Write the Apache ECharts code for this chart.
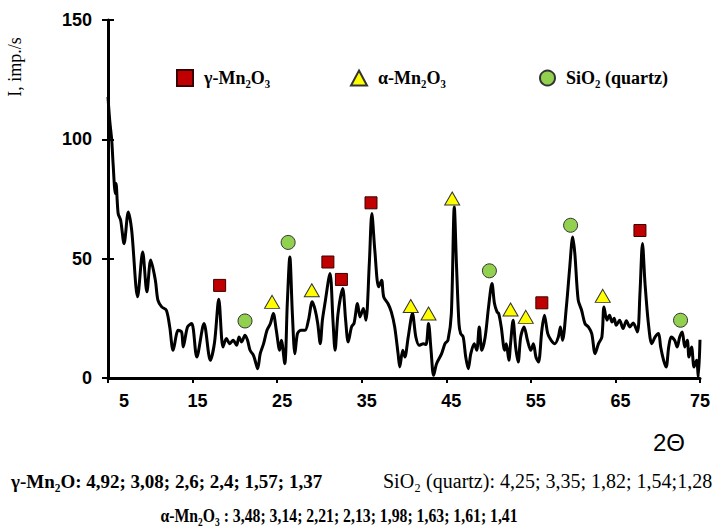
<!DOCTYPE html>
<html>
<head>
<meta charset="utf-8">
<title>XRD pattern</title>
<script src="https://cdn.jsdelivr.net/npm/echarts@6/dist/echarts.min.js"></script>
<style>
  html, body { margin: 0; padding: 0; background: #fff; }
  #chart { width: 713px; height: 526px; }
</style>
</head>
<body>
<div id="chart"></div>
<script>
// Diffraction scan: 2θ (degrees) and intensity (imp./s)
const twoTheta = [
  5.0, 5.2, 5.44, 5.6, 5.86, 5.95, 6.2, 6.5, 6.9, 7.4, 7.8, 8.5, 9.1, 9.6, 10.05, 10.6, 10.9, 11.35, 11.9,
  12.3, 12.7, 13.3, 13.7, 13.9, 14.4, 14.9, 15.5, 16.35, 17.1, 17.6, 18.1, 18.6, 19.0, 19.4, 19.8, 20.2,
  20.5, 20.8, 21.2, 21.5, 21.8, 22.2, 22.5, 22.7, 23.0, 23.4, 23.8, 24.2, 24.55, 24.9, 25.3, 25.5, 25.9,
  26.2, 26.5, 26.8, 27.1, 27.4, 27.8, 28.3, 28.7, 29.15, 29.5, 29.8, 30.1, 30.35, 30.65, 31.25, 31.6,
  31.85, 32.2, 32.75, 33.1, 33.4, 33.8, 34.1, 34.5, 34.8, 35.2, 35.5, 35.9, 36.2, 36.55, 37.0, 37.35,
  37.6, 38.1, 38.5, 38.9, 39.3, 39.5, 39.85, 40.1, 40.5, 41.0, 41.4, 41.8, 42.3, 42.6, 42.9, 43.2, 43.5,
  43.85, 44.45, 44.85, 45.2, 45.6, 45.95, 46.2, 46.5, 46.7, 47.0, 47.3, 47.6, 47.9, 48.3, 48.6, 48.9,
  49.2, 49.6, 50.0, 50.4, 50.7, 51.0, 51.2, 51.5, 51.9, 52.1, 52.4, 52.6, 52.9, 53.2, 53.5, 53.8, 54.2,
  54.6, 55.0, 55.3, 55.6, 55.9, 56.3, 56.6, 57.0, 57.4, 57.85, 58.25, 58.5, 58.75, 59.2, 59.6, 59.95,
  60.2, 60.6, 61.0, 61.4, 61.8, 62.2, 62.6, 63.0, 63.4, 63.65, 64.0, 64.3, 64.6, 64.85, 65.1, 65.5,
  65.9, 66.3, 66.7, 67.1, 67.6, 67.9, 68.2, 68.5, 68.9, 69.3, 69.7, 70.1, 70.35, 70.7, 71.0, 71.3, 71.6,
  72.0, 72.3, 72.6, 72.9, 73.2, 73.5, 73.7, 74.0, 74.3, 74.6, 74.8, 75.0
];
const intensity = [
  117.8, 108, 99.7, 89.9, 77.3, 81.5, 68.9, 66, 56.3, 69.6, 61.9, 34, 52.8, 36.1, 49.4, 41, 32.6, 29.8, 28.4,
  21.4, 11.6, 20, 19.3, 13, 21.4, 22.8, 8.8, 22.8, 7.4, 15, 33, 13, 16.5, 14.4, 15.8, 13.7,
  17.2, 15.1, 17.9, 15.8, 11.6, 9.5, 6, 3.9, 10.2, 14.4, 20, 22.8, 27, 20, 11.6, 15.8, 6,
  31.2, 50.7, 27, 10.2, 18.6, 20, 20, 24.2, 31.9, 28.4, 22.8, 14.4, 24.2, 31.2, 43.8, 24.2,
  11.6, 27, 37.5, 24.2, 15.1, 21.4, 23, 31.2, 25.6, 29.1, 24.2, 48, 68.9, 53.5, 38.2, 41,
  34, 31.2, 27.7, 21.4, 10.2, 4.6, 11.6, 8.8, 17.2, 27, 17.2, 13.7, 14.4, 14, 22.8, 11.6, 1.1,
  6, 10.2, 14.4, 15.8, 27, 71.7, 48, 22.8, 18.6, 17.2, 8.8, 3.9, 10.2, 14.4, 11.6, 21.4,
  11.6, 17.2, 29.8, 39.6, 31.2, 27.7, 27, 21.4, 11.6, 14.4, 7.4, 14.4, 24.2, 13, 6.7, 17.2, 21.4,
  15.8, 11.6, 14.4, 8.8, 6.7, 20, 26.3, 18.6, 15.8, 14.4, 17.2, 21.4, 15.8, 29.8, 46.5, 59.1,
  52.2, 32.6, 28.4, 22.8, 21.4, 18.6, 10.2, 14.4, 17.2, 29.8, 24.2, 26.3, 23.5, 25, 22.1, 24.2,
  20.7, 24, 21.4, 23, 19.3, 35.4, 56.4, 39.6, 22.8, 14.4, 17.2, 18.6, 13, 7.4, 4.6, 13, 17.2,
  15.8, 13, 17.2, 19.3, 13, 15.8, 8.8, 13, 4.6, 7.4, 0.3, 16
];

// Phase markers placed above the identified reflections: [2θ, intensity]
const gammaMarks = [[18.2, 38.8], [31.0, 48.6], [32.6, 41.3], [36.1, 73.4], [56.3, 31.5], [67.9, 61.8]];
const alphaMarks = [[24.4, 31.9], [29.1, 36.8], [40.8, 30.2], [42.9, 27.0], [45.7, 75.2], [52.6, 28.7], [54.4, 25.6], [63.5, 34.4]];
const quartzMarks = [[21.2, 23.9], [26.3, 56.8], [50.1, 44.9], [59.7, 64.0], [72.7, 24.2]];

const phaseNames = ['γ-Mn₂O₃', 'α-Mn₂O₃', 'SiO₂ (quartz)'];
const xTicks = [5, 15, 25, 35, 45, 55, 65, 75];
const yTicks = [0, 50, 100, 150];

const scan = twoTheta.map((t, i) => [t, intensity[i]]);

const serif = '"Liberation Serif", "Times New Roman", serif';
const sans = '"Liberation Sans", Arial, sans-serif';

const chart = echarts.init(document.getElementById('chart'), null, { renderer: 'svg' });

function legendAt(name, left, w, h) {
  return {
    data: [name],
    left: left,
    top: 64,
    itemWidth: w,
    itemHeight: h,
    selectedMode: false,
    formatter: '{t|{name}}',
    textStyle: {
      rich: { t: { fontFamily: serif, fontWeight: 'bold', fontSize: 18, color: '#000', padding: [0, 0, 0, 6] } }
    }
  };
}

chart.setOption({
  animation: false,
  backgroundColor: '#fff',
  grid: { left: 108, right: 13, top: 20, bottom: 148 },
  legend: [
    legendAt(phaseNames[0], 171, 16, 16),
    legendAt(phaseNames[1], 345, 16, 15),
    legendAt(phaseNames[2], 534, 15, 15)
  ],
  xAxis: {
    type: 'value',
    min: xTicks[0],
    max: xTicks[xTicks.length - 1],
    interval: 10,
    axisLine: { lineStyle: { color: '#000', width: 3 } },
    axisTick: { length: 5, lineStyle: { color: '#000', width: 2 } },
    splitLine: { show: false },
    axisLabel: {
      margin: 14,
      color: '#000',
      fontFamily: sans,
      fontWeight: 'bold',
      fontSize: 18,
      formatter: v => v === xTicks[0] ? '{f|' + v + '}' : (v === xTicks[xTicks.length - 1] ? '{l|' + v + '}' : '{m|' + v + '}'),
      rich: {
        f: { fontFamily: sans, fontWeight: 'bold', fontSize: 18, color: '#000', padding: [0, 0, 0, 32] },
        m: { fontFamily: sans, fontWeight: 'bold', fontSize: 18, color: '#000', padding: [0, 0, 0, 10] },
        l: { fontFamily: sans, fontWeight: 'bold', fontSize: 18, color: '#000' }
      }
    }
  },
  yAxis: [
    {
      type: 'value',
      min: yTicks[0],
      max: yTicks[yTicks.length - 1],
      interval: 50,
      axisLine: { show: true, lineStyle: { color: '#000', width: 3 } },
      axisTick: { show: true, length: 6, lineStyle: { color: '#000', width: 2 } },
      splitLine: { show: false },
      axisLabel: { margin: 16, color: '#000', fontFamily: sans, fontWeight: 'bold', fontSize: 18 }
    },
    {
      // inner half of the cross ticks on the intensity axis
      type: 'value',
      position: 'left',
      min: yTicks[0],
      max: yTicks[yTicks.length - 1],
      interval: 50,
      axisLine: { show: false },
      axisTick: { show: true, inside: true, length: 6, lineStyle: { color: '#000', width: 2 } },
      axisLabel: { show: false },
      splitLine: { show: false }
    }
  ],
  series: [
    {
      name: 'scan',
      type: 'line',
      data: scan,
      symbol: 'none',
      smooth: 0.3,
      lineStyle: { color: '#000', width: 3 },
      z: 2
    },
    {
      name: phaseNames[0],
      type: 'scatter',
      data: gammaMarks,
      symbol: 'rect',
      symbolSize: 12,
      itemStyle: { color: '#C00000', borderColor: '#3a0000', borderWidth: 1, opacity: 1 },
      z: 3
    },
    {
      name: phaseNames[1],
      type: 'scatter',
      data: alphaMarks,
      symbol: 'triangle',
      symbolSize: [15, 13],
      itemStyle: { color: '#FFFF00', borderColor: '#333', borderWidth: 1, opacity: 1 },
      z: 3
    },
    {
      name: phaseNames[2],
      type: 'scatter',
      data: quartzMarks,
      symbol: 'circle',
      symbolSize: 14,
      itemStyle: { color: '#92D050', borderColor: '#333', borderWidth: 1, opacity: 1 },
      z: 3
    }
  ],
  graphic: [
    {
      type: 'text',
      x: 15, y: 67,
      rotation: Math.PI / 2,
      style: { text: 'I, imp./s', font: '18px ' + serif, fill: '#000', textAlign: 'center', textVerticalAlign: 'middle' }
    },
    {
      type: 'text',
      x: 669, y: 442,
      style: { text: '2Θ', font: '24px ' + sans, fill: '#000', textAlign: 'center', textVerticalAlign: 'middle' }
    },
    {
      type: 'text',
      x: 11, y: 481,
      style: { text: 'γ-Mn₂O: 4,92; 3,08; 2,6; 2,4; 1,57; 1,37', font: 'bold 19px ' + serif, fill: '#000', textVerticalAlign: 'middle' }
    },
    {
      type: 'text',
      x: 383, y: 481,
      style: { text: 'SiO₂ (quartz): 4,25; 3,35; 1,82; 1,54;1,28', font: '20px ' + serif, fill: '#000', textVerticalAlign: 'middle' }
    },
    {
      // condensed line of α-phase d-spacings
      type: 'text',
      x: 339, y: 515,
      scaleX: 0.83,
      style: { text: 'α-Mn₂O₃ : 3,48; 3,14; 2,21; 2,13; 1,98; 1,63; 1,61; 1,41', font: 'bold 19px ' + serif, fill: '#000', textAlign: 'center', textVerticalAlign: 'middle' }
    }
  ]
});
</script>
</body>
</html>
